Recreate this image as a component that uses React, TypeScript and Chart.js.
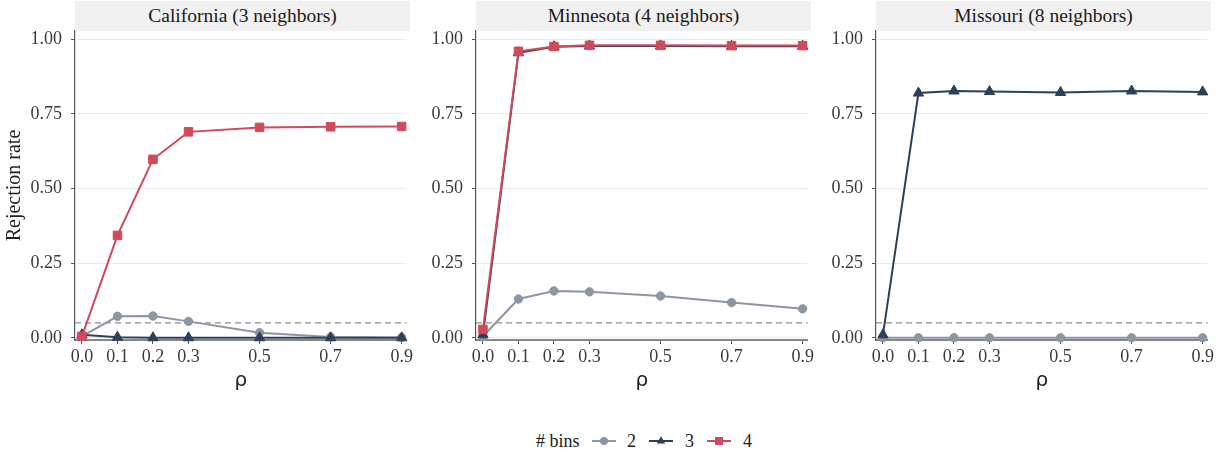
import React, { useEffect, useRef } from "react";
import { Chart, registerables } from "chart.js";

Chart.register(...registerables);

// ---------- data ----------
const rho = [0, 0.1, 0.2, 0.3, 0.5, 0.7, 0.9];
const xTickValues = [0, 0.1, 0.2, 0.3, 0.5, 0.7, 0.9];
const yTickValues = [0, 0.25, 0.5, 0.75, 1];
const threshold = 0.05;

const binLabels = ["2", "3", "4"];

const caBins2 = [0.005, 0.072, 0.073, 0.055, 0.017, 0.003, 0.001];
const caBins3 = [0.01, 0.002, 0.0, 0.0, 0.0, 0.0, 0.0];
const caBins4 = [0.005, 0.343, 0.598, 0.69, 0.705, 0.707, 0.708];

const mnBins2 = [0.005, 0.13, 0.157, 0.154, 0.14, 0.118, 0.097];
const mnBins3 = [0.01, 0.955, 0.975, 0.978, 0.978, 0.977, 0.977];
const mnBins4 = [0.028, 0.96, 0.976, 0.98, 0.98, 0.979, 0.979];

const moBins2 = [0.0, 0.0, 0.0, 0.0, 0.0, 0.0, 0.0];
const moBins3 = [0.01, 0.82, 0.827, 0.825, 0.822, 0.827, 0.824];

const panelTitles = ["California (3 neighbors)", "Minnesota (4 neighbors)", "Missouri (8 neighbors)"];

// ---------- styles ----------
const COLORS = ["#8d96a3", "#2e4057", "#d1495b"];
const STYLES = ["circle", "triangle", "rect"];
const RADII = [4.2, 6, 6];
const ORDERS = [3, 2, 1];

const SERIF = "'Liberation Serif', 'Times New Roman', serif";
const AXIS_W = 75;
const CANVAS_H = 400;
const PLOT_TOP = 31;
const PLOT_BOTTOM = 340;

type PanelDef = {
  title: string;
  plotLeft: number;
  plotRight: number;
  series: (number[] | null)[];
  yTitle: boolean;
};

const panels: PanelDef[] = [
  { title: panelTitles[0], plotLeft: 75, plotRight: 410, series: [caBins2, caBins3, caBins4], yTitle: true },
  { title: panelTitles[1], plotLeft: 476, plotRight: 811, series: [mnBins2, mnBins3, mnBins4], yTitle: false },
  { title: panelTitles[2], plotLeft: 876, plotRight: 1211, series: [moBins2, moBins3, null], yTitle: false },
];

const thresholdPlugin = {
  id: "thresholdLine",
  beforeDatasetsDraw(chart: any) {
    const { ctx, chartArea, scales } = chart;
    const y = scales.y.getPixelForValue(threshold);
    ctx.save();
    ctx.strokeStyle = "#8e8e8e";
    ctx.lineWidth = 1.3;
    ctx.setLineDash([6, 4]);
    ctx.beginPath();
    ctx.moveTo(chartArea.left, y);
    ctx.lineTo(chartArea.right, y);
    ctx.stroke();
    ctx.restore();
  },
};

function Panel({ def }: { def: PanelDef }) {
  const ref = useRef<HTMLCanvasElement | null>(null);
  const canvasLeft = def.plotLeft - AXIS_W;
  const canvasW = def.plotRight - canvasLeft + 5;

  useEffect(() => {
    if (!ref.current) return;
    const datasets: any[] = [];
    def.series.forEach((s, k) => {
      if (!s) return;
      datasets.push({
        label: binLabels[k],
        data: rho.map((x, i) => ({ x, y: s[i] })),
        borderColor: COLORS[k],
        backgroundColor: COLORS[k],
        pointBackgroundColor: COLORS[k],
        pointBorderColor: COLORS[k],
        pointStyle: STYLES[k],
        pointRadius: RADII[k],
        pointBorderWidth: 1,
        borderWidth: 2,
        tension: 0,
        order: ORDERS[k],
        clip: false,
      });
    });

    const chart = new Chart(ref.current, {
      type: "line",
      data: { datasets },
      plugins: [thresholdPlugin],
      options: {
        responsive: false,
        animation: false,
        layout: { padding: { top: PLOT_TOP, right: 5, left: 0, bottom: 0 } },
        plugins: { legend: { display: false }, tooltip: { enabled: false } },
        scales: {
          x: {
            type: "linear",
            min: -0.0195,
            max: 0.914,
            afterBuildTicks: (s: any) => {
              s.ticks = xTickValues.map((v) => ({ value: v }));
            },
            afterFit: (s: any) => {
              s.height = CANVAS_H - PLOT_BOTTOM;
            },
            ticks: {
              callback: (v: any) => Number(v).toFixed(1),
              font: { family: SERIF, size: 18 },
              color: "#3a3a3a",
              padding: 2,
              maxRotation: 0,
              autoSkip: false,
            },
            grid: { drawOnChartArea: false, tickLength: 4, tickColor: "#555", tickWidth: 1 },
            border: { color: "#868686", width: 2 },
            title: {
              display: true,
              text: "ρ",
              font: { family: "'DejaVu Sans', sans-serif", size: 20 },
              color: "#222",
              padding: { top: 0, bottom: 7 },
            },
          },
          y: {
            type: "linear",
            min: -0.0074,
            max: 1.028,
            afterBuildTicks: (s: any) => {
              s.ticks = yTickValues.map((v) => ({ value: v }));
            },
            afterFit: (s: any) => {
              s.width = AXIS_W;
            },
            ticks: {
              callback: (v: any) => Number(v).toFixed(2),
              font: { family: SERIF, size: 18 },
              color: "#3a3a3a",
              padding: 9,
              autoSkip: false,
            },
            grid: { color: "#ebebeb", lineWidth: 1, tickLength: 4, tickColor: "#555", tickWidth: 1 },
            border: { color: "#555", width: 1.2 },
            title: {
              display: def.yTitle,
              text: "Rejection rate",
              font: { family: SERIF, size: 20 },
              color: "#222",
              padding: { top: 3, bottom: 0 },
            },
          },
        },
      } as any,
    });
    return () => chart.destroy();
  }, []);

  return (
    <>
      <canvas
        ref={ref}
        width={canvasW}
        height={CANVAS_H}
        style={{ position: "absolute", left: canvasLeft, top: 0, width: canvasW, height: CANVAS_H }}
      />
      <div
        style={{
          position: "absolute",
          left: def.plotLeft,
          top: 1,
          width: def.plotRight - def.plotLeft,
          height: 30,
          background: "#f0f0f0",
          textAlign: "center",
          lineHeight: "30px",
          fontFamily: SERIF,
          fontSize: 19.5,
          color: "#1a1a1a",
          whiteSpace: "nowrap",
        }}
      >
        {def.title}
      </div>
    </>
  );
}

function LegendKey({ k }: { k: number }) {
  const c = COLORS[k];
  let marker: React.ReactNode = null;
  if (k === 0) marker = <circle cx={12} cy={7} r={4} fill={c} />;
  if (k === 1) marker = <polygon points="12,2.2 16.2,9.6 7.8,9.6" fill={c} />;
  if (k === 2) marker = <rect x={8} y={3} width={8} height={8} fill={c} />;
  return (
    <svg width={24} height={14} style={{ display: "block" }}>
      <line x1={0} y1={7} x2={24} y2={7} stroke={c} strokeWidth={2} />
      {marker}
    </svg>
  );
}

export default function App() {
  const legendY = 441;
  const keyLefts = [592, 649, 707];
  const labelLefts = [627, 685, 743];
  const textStyle: React.CSSProperties = {
    position: "absolute",
    fontFamily: SERIF,
    fontSize: 18,
    color: "#1a1a1a",
    lineHeight: "22px",
    top: legendY - 11,
    whiteSpace: "nowrap",
  };
  return (
    <div style={{ position: "absolute", left: 0, top: 0, width: 1225, height: 452, background: "#fff", overflow: "hidden" }}>
      {panels.map((p, i) => (
        <Panel key={i} def={p} />
      ))}
      <div style={{ ...textStyle, left: 536 }}># bins</div>
      {binLabels.map((lab, k) => (
        <React.Fragment key={k}>
          <div style={{ position: "absolute", left: keyLefts[k], top: legendY - 7 }}>
            <LegendKey k={k} />
          </div>
          <div style={{ ...textStyle, left: labelLefts[k] }}>{lab}</div>
        </React.Fragment>
      ))}
    </div>
  );
}
